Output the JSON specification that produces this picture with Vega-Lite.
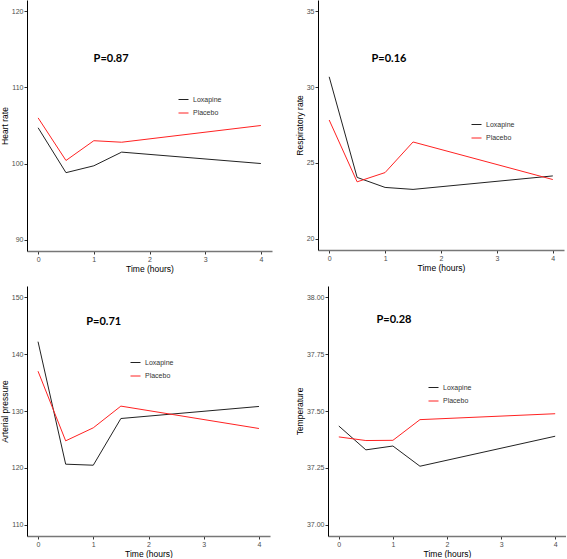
{
  "$schema": "https://vega.github.io/schema/vega-lite/v6.json",
  "padding": 0,
  "background": "white",
  "config": {
    "view": {"stroke": null},
    "font": "Liberation Sans",
    "axis": {
      "grid": false,
      "domainColor": "#000000",
      "domainWidth": 1,
      "tickColor": "#333333",
      "tickSize": 3,
      "labelColor": "#4d4d4d",
      "labelFontSize": 7,
      "labelFont": "Liberation Sans",
      "labelPadding": 1,
      "titleFont": "Liberation Sans",
      "titleFontSize": 8.5,
      "titleFontWeight": "normal",
      "titleColor": "#000000",
      "titlePadding": 2
    },
    "axisX": {"domainColor": "#777777", "domainWidth": 1.5, "format": "d"},
    "legend": {
      "symbolType": "stroke",
      "symbolSize": 100,
      "symbolStrokeWidth": 1,
      "labelFontSize": 7,
      "labelColor": "#333333",
      "labelFont": "Liberation Sans",
      "labelOffset": 4,
      "rowPadding": 4.5,
      "padding": 0
    },
    "line": {"strokeWidth": 1}
  },
  "datasets": {
    "hr": [
      {"time": 0, "group": "Loxapine", "value": 104.7},
      {"time": 0.5, "group": "Loxapine", "value": 98.8},
      {"time": 1, "group": "Loxapine", "value": 99.7},
      {"time": 1.5, "group": "Loxapine", "value": 101.5},
      {"time": 4, "group": "Loxapine", "value": 100.0},
      {"time": 0, "group": "Placebo", "value": 106.0},
      {"time": 0.5, "group": "Placebo", "value": 100.4},
      {"time": 1, "group": "Placebo", "value": 103.0},
      {"time": 1.5, "group": "Placebo", "value": 102.8},
      {"time": 4, "group": "Placebo", "value": 105.0}
    ],
    "rr": [
      {"time": 0, "group": "Loxapine", "value": 30.68},
      {"time": 0.5, "group": "Loxapine", "value": 24.04},
      {"time": 1, "group": "Loxapine", "value": 23.38},
      {"time": 1.5, "group": "Loxapine", "value": 23.25},
      {"time": 4, "group": "Loxapine", "value": 24.14},
      {"time": 0, "group": "Placebo", "value": 27.83},
      {"time": 0.5, "group": "Placebo", "value": 23.75},
      {"time": 1, "group": "Placebo", "value": 24.36},
      {"time": 1.5, "group": "Placebo", "value": 26.38},
      {"time": 4, "group": "Placebo", "value": 23.9}
    ],
    "ap": [
      {"time": 0, "group": "Loxapine", "value": 142.2},
      {"time": 0.5, "group": "Loxapine", "value": 120.64},
      {"time": 1, "group": "Loxapine", "value": 120.46},
      {"time": 1.5, "group": "Loxapine", "value": 128.68},
      {"time": 4, "group": "Loxapine", "value": 130.8},
      {"time": 0, "group": "Placebo", "value": 137.0},
      {"time": 0.5, "group": "Placebo", "value": 124.75},
      {"time": 1, "group": "Placebo", "value": 127.04},
      {"time": 1.5, "group": "Placebo", "value": 130.86},
      {"time": 4, "group": "Placebo", "value": 126.92}
    ],
    "temp": [
      {"time": 0, "group": "Loxapine", "value": 37.434},
      {"time": 0.5, "group": "Loxapine", "value": 37.329},
      {"time": 1, "group": "Loxapine", "value": 37.346},
      {"time": 1.5, "group": "Loxapine", "value": 37.257},
      {"time": 4, "group": "Loxapine", "value": 37.389},
      {"time": 0, "group": "Placebo", "value": 37.386},
      {"time": 0.5, "group": "Placebo", "value": 37.37},
      {"time": 1, "group": "Placebo", "value": 37.371},
      {"time": 1.5, "group": "Placebo", "value": 37.462},
      {"time": 4, "group": "Placebo", "value": 37.488}
    ]
  },
  "resolve": {"scale": {"color": "independent"}, "legend": {"color": "independent"}},
  "spacing": 13,
  "vconcat": [
    {
      "spacing": 23,
      "resolve": {"scale": {"color": "independent"}, "legend": {"color": "independent"}},
      "hconcat": [
        {
          "width": 245,
          "height": 251,
          "layer": [
            {
              "data": {"name": "hr"},
              "mark": {"type": "line", "strokeWidth": 1},
              "encoding": {
                "x": {"field": "time", "type": "quantitative", "scale": {"domain": [-0.2, 4.2], "nice": false, "zero": false}, "axis": {"values": [0, 1, 2, 3, 4], "title": "Time (hours)"}},
                "y": {"field": "value", "type": "quantitative", "scale": {"domain": [88.5, 121.5], "nice": false, "zero": false}, "axis": {"values": [90, 100, 110, 120], "title": "Heart rate"}},
                "color": {"field": "group", "type": "nominal", "scale": {"domain": ["Loxapine", "Placebo"], "range": ["#222222", "#ff2222"]}, "legend": {"orient": "none", "legendX": 151, "legendY": 94, "title": null}}
              }
            },
            {
              "data": {"values": [{"label": "P=0.87"}]},
              "mark": {"type": "text", "font": "Lato", "fontWeight": "bold", "fontSize": 11, "color": "#000000"},
              "encoding": {
                "x": {"datum": 1.31, "type": "quantitative"},
                "y": {"datum": 113.7, "type": "quantitative"},
                "text": {"field": "label"}
              }
            }
          ]
        },
        {
          "width": 246,
          "height": 250,
          "layer": [
            {
              "data": {"name": "rr"},
              "mark": {"type": "line", "strokeWidth": 1},
              "encoding": {
                "x": {"field": "time", "type": "quantitative", "scale": {"domain": [-0.2, 4.2], "nice": false, "zero": false}, "axis": {"values": [0, 1, 2, 3, 4], "title": "Time (hours)"}},
                "y": {"field": "value", "type": "quantitative", "scale": {"domain": [19.25, 35.75], "nice": false, "zero": false}, "axis": {"values": [20, 25, 30, 35], "title": "Respiratory rate"}},
                "color": {"field": "group", "type": "nominal", "scale": {"domain": ["Loxapine", "Placebo"], "range": ["#222222", "#ff2222"]}, "legend": {"orient": "none", "legendX": 153, "legendY": 119, "title": null}}
              }
            },
            {
              "data": {"values": [{"label": "P=0.16"}]},
              "mark": {"type": "text", "font": "Lato", "fontWeight": "bold", "fontSize": 11, "color": "#000000"},
              "encoding": {
                "x": {"datum": 1.07, "type": "quantitative"},
                "y": {"datum": 31.88, "type": "quantitative"},
                "text": {"field": "label"}
              }
            }
          ]
        }
      ]
    },
    {
      "spacing": 25,
      "resolve": {"scale": {"color": "independent"}, "legend": {"color": "independent"}},
      "hconcat": [
        {
          "width": 243,
          "height": 250,
          "layer": [
            {
              "data": {"name": "ap"},
              "mark": {"type": "line", "strokeWidth": 1},
              "encoding": {
                "x": {"field": "time", "type": "quantitative", "scale": {"domain": [-0.2, 4.2], "nice": false, "zero": false}, "axis": {"values": [0, 1, 2, 3, 4], "title": "Time (hours)"}},
                "y": {"field": "value", "type": "quantitative", "scale": {"domain": [108, 152], "nice": false, "zero": false}, "axis": {"values": [110, 120, 130, 140, 150], "title": "Arterial pressure"}},
                "color": {"field": "group", "type": "nominal", "scale": {"domain": ["Loxapine", "Placebo"], "range": ["#222222", "#ff2222"]}, "legend": {"orient": "none", "legendX": 103, "legendY": 71, "title": null}}
              }
            },
            {
              "data": {"values": [{"label": "P=0.71"}]},
              "mark": {"type": "text", "font": "Lato", "fontWeight": "bold", "fontSize": 11, "color": "#000000"},
              "encoding": {
                "x": {"datum": 1.19, "type": "quantitative"},
                "y": {"datum": 145.6, "type": "quantitative"},
                "text": {"field": "label"}
              }
            }
          ]
        },
        {
          "width": 238,
          "height": 250,
          "layer": [
            {
              "data": {"name": "temp"},
              "mark": {"type": "line", "strokeWidth": 1},
              "encoding": {
                "x": {"field": "time", "type": "quantitative", "scale": {"domain": [-0.2, 4.2], "nice": false, "zero": false}, "axis": {"values": [0, 1, 2, 3, 4], "title": "Time (hours)"}},
                "y": {"field": "value", "type": "quantitative", "scale": {"domain": [36.95, 38.05], "nice": false, "zero": false}, "axis": {"values": [37, 37.25, 37.5, 37.75, 38], "format": ".2f", "title": "Temperature"}},
                "color": {"field": "group", "type": "nominal", "scale": {"domain": ["Loxapine", "Placebo"], "range": ["#222222", "#ff2222"]}, "legend": {"orient": "none", "legendX": 100, "legendY": 96, "title": null}}
              }
            },
            {
              "data": {"values": [{"label": "P=0.28"}]},
              "mark": {"type": "text", "font": "Lato", "fontWeight": "bold", "fontSize": 11, "color": "#000000"},
              "encoding": {
                "x": {"datum": 1.02, "type": "quantitative"},
                "y": {"datum": 37.9, "type": "quantitative"},
                "text": {"field": "label"}
              }
            }
          ]
        }
      ]
    }
  ]
}
